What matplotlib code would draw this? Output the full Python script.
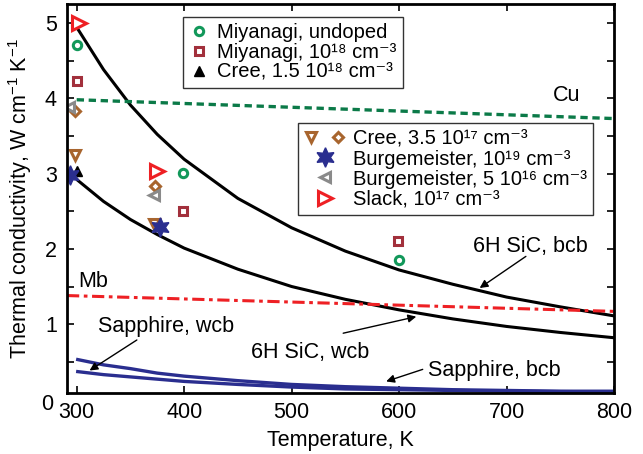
import matplotlib
matplotlib.use('Agg')
import matplotlib.pyplot as plt
import matplotlib.transforms as mtransforms
from matplotlib.legend_handler import HandlerTuple

plt.rcParams['font.family'] = ['Liberation Sans', 'DejaVu Sans']
plt.rcParams['mathtext.fontset'] = 'custom'
plt.rcParams['mathtext.rm'] = 'Liberation Sans'
plt.rcParams['mathtext.default'] = 'regular'

# model curves
temp = [301, 325, 350, 375, 400, 450, 500, 550, 600, 650, 700, 750, 800]
sic_bcb = [4.92, 4.38, 3.91, 3.52, 3.19, 2.67, 2.28, 1.97, 1.72, 1.53, 1.36, 1.23, 1.11]
sic_wcb = [2.91, 2.63, 2.39, 2.19, 2.01, 1.73, 1.50, 1.33, 1.19, 1.07, 0.97, 0.89, 0.82]
saph_bcb = [0.53, 0.46, 0.41, 0.35, 0.31, 0.25, 0.20, 0.17, 0.15, 0.13, 0.12, 0.11, 0.11]
saph_wcb = [0.37, 0.33, 0.30, 0.27, 0.24, 0.20, 0.165, 0.14, 0.13, 0.12, 0.11, 0.105, 0.10]

cu_t = [300, 800]
cu_k = [3.98, 3.73]
mb_t = [291, 800]
mb_k = [1.38, 1.17]

# measured points
miy_undoped_t = [300, 399, 600]
miy_undoped_k = [4.71, 3.01, 1.85]
miy_1e18_t = [300, 399, 599]
miy_1e18_k = [4.23, 2.50, 2.10]
cree_15_t = [300]
cree_15_k = [3.04]
cree_35_tri_t = [298, 372]
cree_35_tri_k = [3.24, 2.33]
cree_35_dia_t = [298, 373]
cree_35_dia_k = [3.83, 2.83]
burg_1e19_t = [294, 378]
burg_1e19_k = [2.98, 2.29]
burg_5e16_t = [293, 372]
burg_5e16_k = [3.89, 2.72]
slack_t = [302, 375]
slack_k = [5.00, 3.03]

labels_top = ['Miyanagi, undoped', 'Miyanagi, 10¹⁸ cm⁻³', 'Cree, 1.5 10¹⁸ cm⁻³']
labels_mid = ['Cree, 3.5 10¹⁷ cm⁻³', 'Burgemeister, 10¹⁹ cm⁻³',
              'Burgemeister, 5 10¹⁶ cm⁻³', 'Slack, 10¹⁷ cm⁻³']

green = '#12985a'
wine = '#a2303c'
brown = '#a8652e'
navy = '#2a2e8f'
grey = '#8a8a8a'
red = '#ee2024'
cu_col = '#0b7a48'

fig = plt.figure(figsize=(6.43, 4.54), dpi=100)
ax = fig.add_axes([0.1037, 0.135, 0.8512, 0.856])

ax.plot(temp, sic_bcb, color='k', lw=2.2)
ax.plot(temp, sic_wcb, color='k', lw=2.2)
ax.plot(temp, saph_bcb, color=navy, lw=2.4)
ax.plot(temp, saph_wcb, color=navy, lw=2.4)
ax.plot(cu_t, cu_k, color=cu_col, lw=2.4, dashes=(2.2, 1.4))
ax.plot(mb_t, mb_k, color=red, lw=2.2, dashes=(4, 1.5, 1.2, 1.5))

h_miy0, = ax.plot(miy_undoped_t, miy_undoped_k, 'o', ms=6, mfc='white', mec=green, mew=2.2, ls='none')
h_miy18, = ax.plot(miy_1e18_t, miy_1e18_k, 's', ms=5.5, mfc='white', mec=wine, mew=2.2, ls='none')
h_cree15, = ax.plot(cree_15_t, cree_15_k, '^', ms=6.5, color='k', ls='none')
h_cree_tri, = ax.plot(cree_35_tri_t, cree_35_tri_k, 'v', ms=6.5, mfc='white', mec=brown, mew=2.2, ls='none')
h_cree_dia, = ax.plot(cree_35_dia_t, cree_35_dia_k, 'D', ms=5, mfc='white', mec=brown, mew=2.2, ls='none')
h_burg19, = ax.plot(burg_1e19_t, burg_1e19_k, marker=(6, 1, 0), ms=14, color=navy, ls='none')
h_burg16, = ax.plot(burg_5e16_t, burg_5e16_k, '<', ms=6.5, mfc='white', mec=grey, mew=2.2, ls='none')
h_slack, = ax.plot(slack_t, slack_k, '>', ms=9.5, mfc='white', mec=red, mew=2.2, ls='none')

ax.set_xlim(290.7, 800)
ax.set_ylim(0.09, 5.25)
ax.set_xticks([300, 400, 500, 600, 700, 800])
ax.set_yticks([1, 2, 3, 4, 5])
ax.set_yticks([0.5, 1.5, 2.5, 3.5, 4.5], minor=True)
ax.tick_params(which='both', direction='in', top=True, right=True, length=5, width=1.2,
               labelsize=15.5, pad=7)
for s in ax.spines.values():
    s.set_linewidth(2)
# the zero label sits just under the bottom spine
trans = mtransforms.blended_transform_factory(ax.transAxes, ax.transData)
ax.text(-0.024, -0.06, '0', transform=trans, ha='right', va='center', fontsize=15.5, clip_on=False)

ax.set_xlabel('Temperature, K', fontsize=15.5, labelpad=5)
ax.set_ylabel('Thermal conductivity, W cm$^{-1}$ K$^{-1}$', fontsize=15.5, labelpad=8)

fs = 15.5
ax.text(756, 4.03, 'Cu', fontsize=fs, ha='center', va='center')
ax.text(315, 1.56, 'Mb', fontsize=fs, ha='center', va='center')
ax.text(722, 2.03, '6H SiC, bcb', fontsize=fs, ha='center', va='center')
ax.text(517, 0.63, '6H SiC, wcb', fontsize=fs, ha='center', va='center')
ax.text(383, 0.97, 'Sapphire, wcb', fontsize=fs, ha='center', va='center')
ax.text(689, 0.39, 'Sapphire, bcb', fontsize=fs, ha='center', va='center')
arrow = dict(arrowstyle='-|>', color='k', lw=1, mutation_scale=12, shrinkA=0, shrinkB=0)
ax.annotate('', xy=(675, 1.48), xytext=(718, 1.90), arrowprops=arrow)
ax.annotate('', xy=(616, 1.10), xytext=(548, 0.88), arrowprops=arrow)
ax.annotate('', xy=(312, 0.385), xytext=(356, 0.79), arrowprops=arrow)
ax.annotate('', xy=(588, 0.24), xytext=(622, 0.40), arrowprops=arrow)

leg_kw = dict(fontsize=14.5, frameon=True, fancybox=False, framealpha=1, edgecolor='#333333',
              borderpad=0.3, labelspacing=0.05, handletextpad=0.4, borderaxespad=0,
              bbox_transform=fig.transFigure, loc='upper left')
leg1 = ax.legend([h_miy0, h_miy18, h_cree15], labels_top,
                 handlelength=1.0, bbox_to_anchor=(0.285, 0.963), **leg_kw)
leg1.get_frame().set_linewidth(1)
ax.add_artist(leg1)
leg2 = ax.legend([(h_cree_tri, h_cree_dia), h_burg19, h_burg16, h_slack], labels_mid,
                 handler_map={tuple: HandlerTuple(ndivide=None, pad=0.6)},
                 handlelength=2.0, bbox_to_anchor=(0.464, 0.728), **leg_kw)
leg2.get_frame().set_linewidth(1)

fig.savefig('out.png', dpi=100)
